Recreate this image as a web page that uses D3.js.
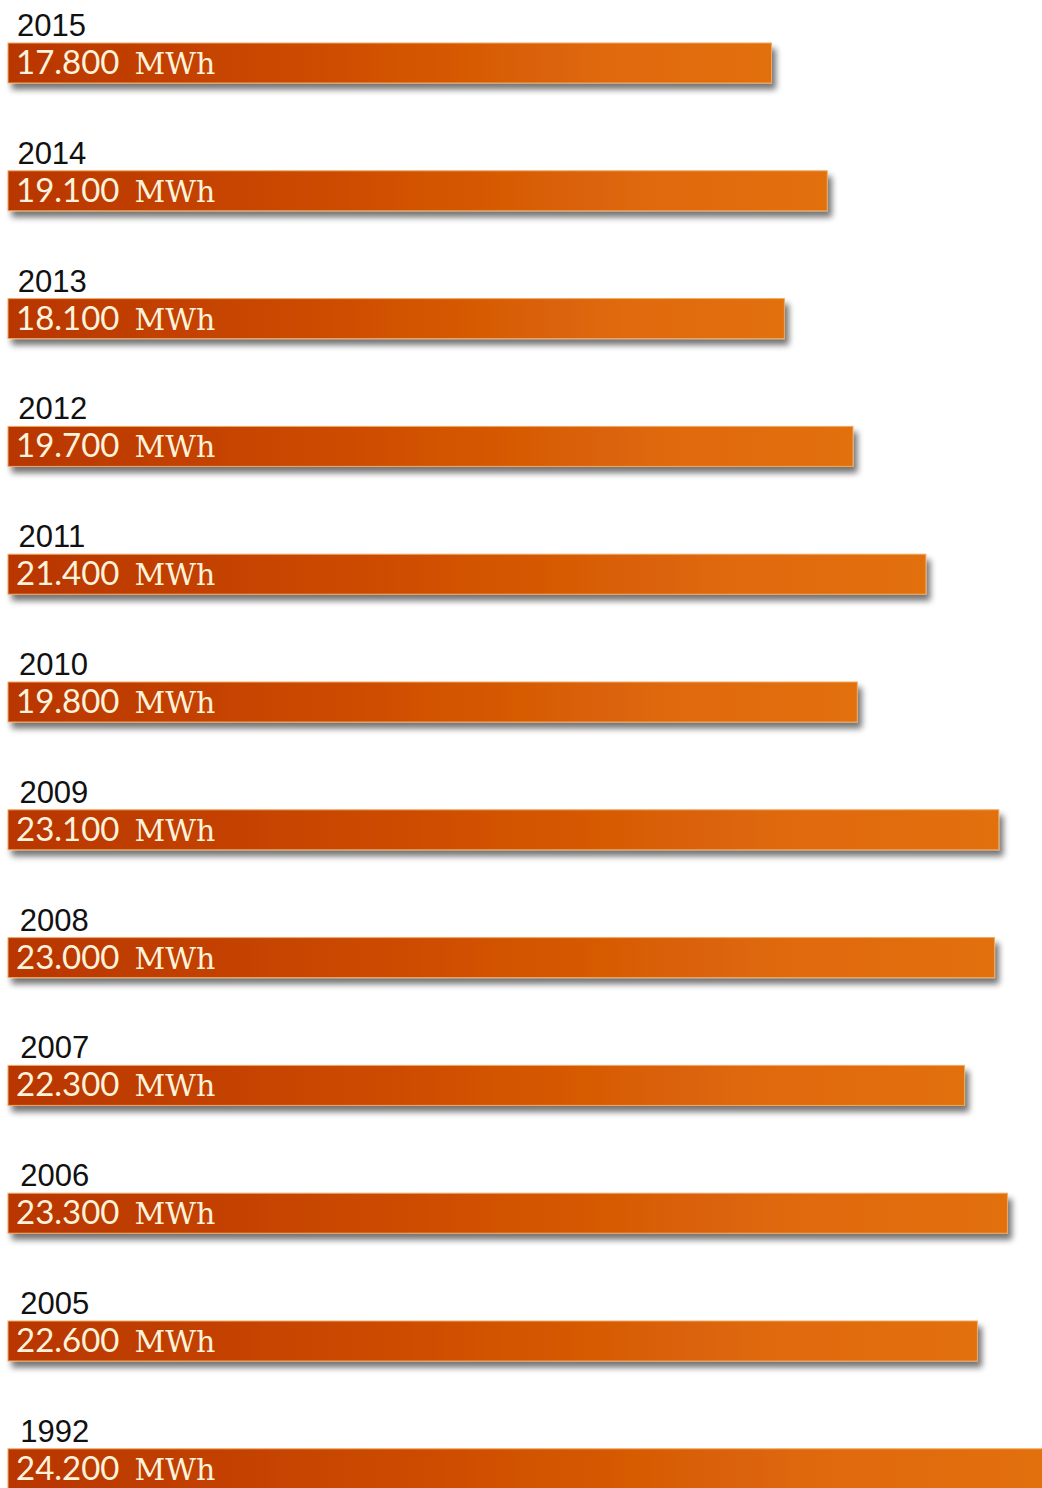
<!DOCTYPE html>
<html>
<head>
<meta charset="utf-8">
<script src="https://cdn.jsdelivr.net/npm/d3@7"></script>
<style>
  html, body { margin: 0; padding: 0; background: #ffffff; overflow: hidden; }
  svg { display: block; }
</style>
</head>
<body>
<div id="chart"></div>
<script>
// Annual energy consumption per year, MWh
const years  = ["2015", "2014", "2013", "2012", "2011", "2010", "2009", "2008", "2007", "2006", "2005", "1992"];
const values = [17800, 19100, 18100, 19700, 21400, 19800, 23100, 23000, 22300, 23300, 22600, 24200];
const labels = ["17.800", "19.100", "18.100", "19.700", "21.400", "19.800", "23.100", "23.000", "22.300", "23.300", "22.600", "24.200"];
const unit = "MWh";

const W = 1042, H = 1488;
const rows = years.map((y, i) => ({ year: y, value: values[i], label: labels[i] }));

const svg = d3.select("#chart").append("svg")
  .attr("width", W).attr("height", H);

const defs = svg.append("defs");

const grad = defs.append("linearGradient")
  .attr("id", "barFill")
  .attr("x1", "0%").attr("x2", "100%").attr("y1", "0%").attr("y2", "0%");
grad.append("stop").attr("offset", "0%").attr("stop-color", "#b83600");
grad.append("stop").attr("offset", "40%").attr("stop-color", "#cd4b04");
grad.append("stop").attr("offset", "80%").attr("stop-color", "#e06a08");
grad.append("stop").attr("offset", "100%").attr("stop-color", "#e26f08");

const shadow = defs.append("filter").attr("id", "barShadow")
  .attr("x", "-5%").attr("y", "-30%").attr("width", "115%").attr("height", "180%");
shadow.append("feGaussianBlur").attr("in", "SourceAlpha").attr("stdDeviation", 3).attr("result", "blur");
shadow.append("feOffset").attr("in", "blur").attr("dx", 4).attr("dy", 6).attr("result", "off");
shadow.append("feComponentTransfer").attr("in", "off").attr("result", "shade")
  .append("feFuncA").attr("type", "linear").attr("slope", 0.55);
const merge = shadow.append("feMerge");
merge.append("feMergeNode").attr("in", "shade");
merge.append("feMergeNode").attr("in", "SourceGraphic");

const x = d3.scaleLinear().domain([0, 24200]).range([8, 1046]);
const y = d3.scaleBand().domain(years).range([43, 1488.8]).paddingInner(0.687).paddingOuter(0);

const g = svg.selectAll("g.row").data(rows).join("g")
  .attr("class", "row")
  .attr("transform", d => `translate(0,${y(d.year)})`);

g.append("rect")
  .attr("x", x(0))
  .attr("y", 0)
  .attr("width", d => x(d.value) - x(0))
  .attr("height", y.bandwidth())
  .attr("fill", "url(#barFill)")
  .attr("stroke", "#f0a862")
  .attr("stroke-width", 1)
  .attr("filter", "url(#barShadow)");

g.append("text")
  .attr("x", (d, i) => 17 + Math.min(i, 8) * 0.4)
  .attr("y", -7)
  .attr("font-family", "'Liberation Sans', Arial, sans-serif")
  .attr("font-size", 31)
  .attr("fill", "#111111")
  .text(d => d.year);

const t = g.append("text")
  .attr("x", 16)
  .attr("y", 31)
  .attr("fill", "#fdf2dc");
t.append("tspan")
  .attr("font-family", "Lato, sans-serif")
  .attr("font-weight", 400)
  .attr("font-size", 33)
  .text(d => d.label);
t.append("tspan")
  .attr("dx", 15)
  .attr("font-family", "'DejaVu Serif', serif")
  .attr("font-size", 30)
  .text(unit);
</script>
</body>
</html>
